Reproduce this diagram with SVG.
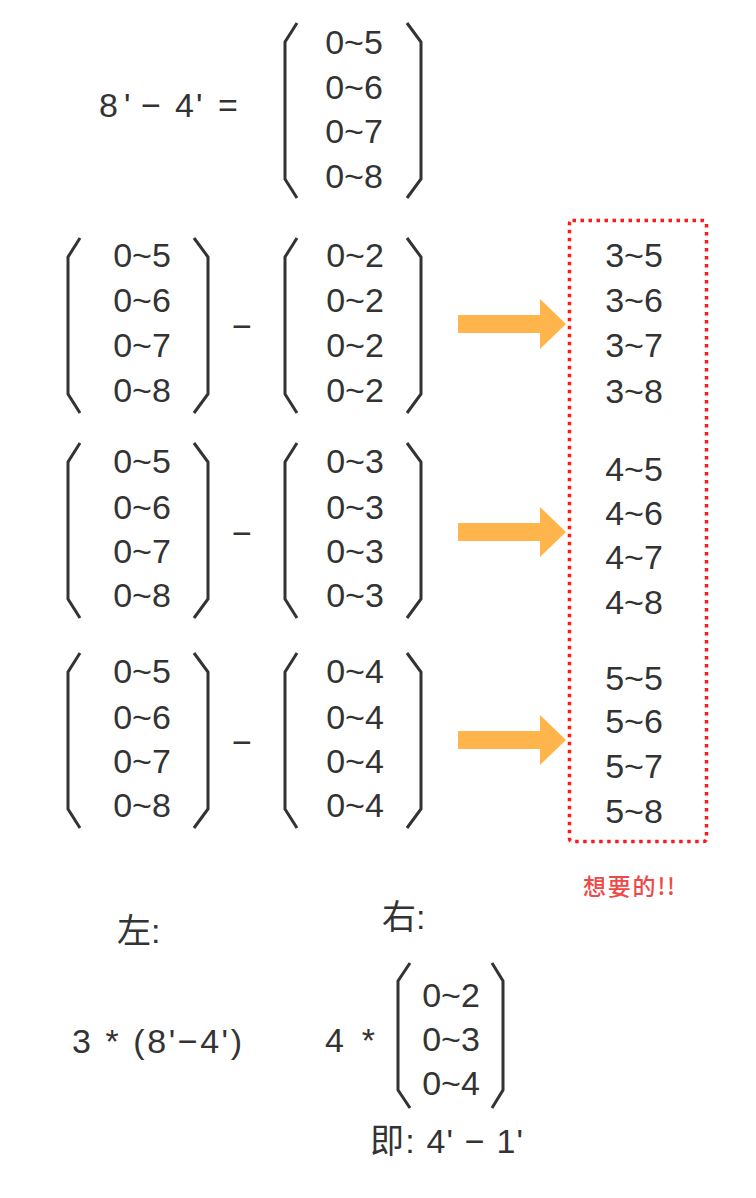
<svg xmlns="http://www.w3.org/2000/svg" width="756" height="1198" viewBox="0 0 756 1198">
<style>
.t{font-family:"Liberation Sans",Arial,"Noto Sans CJK SC",sans-serif;font-size:34px;fill:#333;text-anchor:middle}
.c{font-family:"Liberation Sans","Noto Sans CJK SC",sans-serif;font-size:34px;fill:#333}
.br{fill:none;stroke:#333;stroke-width:3;stroke-linejoin:miter}
.arrow{fill:#ffb54c}
.note{font-family:"Noto Sans CJK SC","Liberation Sans",sans-serif;font-size:23px;fill:#f04848;font-weight:500}
</style>
<defs>
<path id="lb" class="br" d="M12 0 L0 19 L0 156 L12 175"/>
<path id="rb" class="br" d="M0 0 L14 19 L14 156 L0 175"/>
<path id="arr" class="arrow" d="M0 -9 L82 -9 L82 -25 L108 0 L82 25 L82 9 L0 9 Z"/>
</defs>
<rect width="756" height="1198" fill="#fff"/>

<g id="top-expr">
<text class="c" y="117"><tspan x="99">8</tspan><tspan x="124">'</tspan><tspan x="141">−</tspan><tspan x="175">4</tspan><tspan x="196">'</tspan><tspan x="218">=</tspan></text>
<use href="#lb" x="285" y="23"/>
<use href="#rb" x="407" y="23"/>
<text class="t" x="354" y="54">0~5</text>
<text class="t" x="354" y="99">0~6</text>
<text class="t" x="354" y="143">0~7</text>
<text class="t" x="354" y="188">0~8</text>
</g>

<g id="row1">
<use href="#lb" x="68" y="238"/><use href="#rb" x="194" y="238"/>
<text class="t" x="142" y="267">0~5</text>
<text class="t" x="142" y="312">0~6</text>
<text class="t" x="142" y="357">0~7</text>
<text class="t" x="142" y="402">0~8</text>
<text class="t" x="242" y="338">−</text>
<use href="#lb" x="285" y="238"/><use href="#rb" x="407" y="238"/>
<text class="t" x="355" y="267">0~2</text>
<text class="t" x="355" y="312">0~2</text>
<text class="t" x="355" y="357">0~2</text>
<text class="t" x="355" y="402">0~2</text>
</g>

<g id="row2">
<use href="#lb" x="68" y="443"/><use href="#rb" x="194" y="443"/>
<text class="t" x="142" y="473">0~5</text>
<text class="t" x="142" y="519">0~6</text>
<text class="t" x="142" y="563">0~7</text>
<text class="t" x="142" y="607">0~8</text>
<text class="t" x="242" y="545">−</text>
<use href="#lb" x="285" y="443"/><use href="#rb" x="407" y="443"/>
<text class="t" x="355" y="473">0~3</text>
<text class="t" x="355" y="519">0~3</text>
<text class="t" x="355" y="563">0~3</text>
<text class="t" x="355" y="607">0~3</text>
</g>

<g id="row3">
<use href="#lb" x="68" y="653"/><use href="#rb" x="194" y="653"/>
<text class="t" x="142" y="683">0~5</text>
<text class="t" x="142" y="729">0~6</text>
<text class="t" x="142" y="773">0~7</text>
<text class="t" x="142" y="817">0~8</text>
<text class="t" x="242" y="754">−</text>
<use href="#lb" x="285" y="653"/><use href="#rb" x="407" y="653"/>
<text class="t" x="355" y="683">0~4</text>
<text class="t" x="355" y="729">0~4</text>
<text class="t" x="355" y="773">0~4</text>
<text class="t" x="355" y="817">0~4</text>
</g>

<g id="connectors">
<use href="#arr" x="458" y="324"/>
<use href="#arr" x="458" y="532"/>
<use href="#arr" x="458" y="740"/>
</g>

<g id="result">
<rect x="569.5" y="220.5" width="137" height="621" rx="3" fill="none" stroke="#ff1a1a" stroke-width="3.5" stroke-dasharray="3.5 4.5"/>
<text class="t" x="634" y="267">3~5</text>
<text class="t" x="634" y="312">3~6</text>
<text class="t" x="634" y="357">3~7</text>
<text class="t" x="634" y="403">3~8</text>
<text class="t" x="634" y="481">4~5</text>
<text class="t" x="634" y="525">4~6</text>
<text class="t" x="634" y="569">4~7</text>
<text class="t" x="634" y="614">4~8</text>
<text class="t" x="634" y="690">5~5</text>
<text class="t" x="634" y="733">5~6</text>
<text class="t" x="634" y="778">5~7</text>
<text class="t" x="634" y="823">5~8</text>
</g>

<g id="note">
<text class="note" x="583" y="895" textLength="92" lengthAdjust="spacing">想要的!!</text>
</g>

<g id="left">
<text class="c" x="117" y="943">左:</text>
<text class="c" x="72" y="1053" textLength="170" lengthAdjust="spacing">3 * (8'−4')</text>
</g>

<g id="right">
<text class="c" x="382" y="929">右:</text>
<text class="c" x="325" y="1052" textLength="50" lengthAdjust="spacing">4 *</text>
<path class="br" d="M410 963 L398 981 L398 1090 L410 1108"/>
<path class="br" d="M492 963 L503 981 L503 1090 L492 1108"/>
<text class="t" x="451" y="1007">0~2</text>
<text class="t" x="451" y="1051">0~3</text>
<text class="t" x="451" y="1095">0~4</text>
<text class="c" x="370" y="1153" textLength="153" lengthAdjust="spacing">即: 4' − 1'</text>
</g>
</svg>
